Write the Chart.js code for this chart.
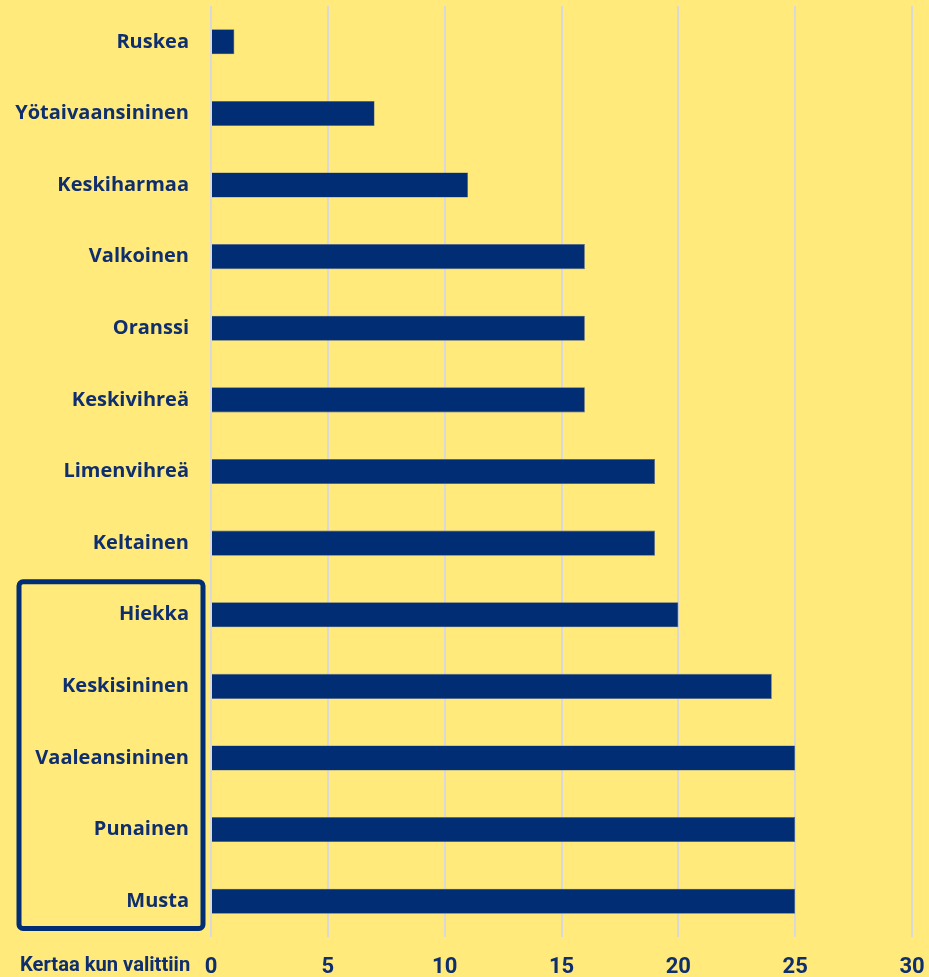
<!DOCTYPE html>
<html>
<head>
<meta charset="utf-8">
<script src="https://cdn.jsdelivr.net/npm/chart.js@4/dist/chart.umd.min.js"></script>
<style>
  html, body { margin: 0; padding: 0; background: #FFEA7B; }
  #wrap { width: 929px; height: 977px; position: relative; }
</style>
</head>
<body>
<div id="wrap"><canvas id="colorChart"></canvas></div>
<script>
const colors = ['Ruskea', 'Yötaivaansininen', 'Keskiharmaa', 'Valkoinen', 'Oranssi', 'Keskivihreä',
  'Limenvihreä', 'Keltainen', 'Hiekka', 'Keskisininen', 'Vaaleansininen', 'Punainen', 'Musta'];
const timesChosen = [1, 7, 11, 16, 16, 16, 19, 19, 20, 24, 25, 25, 25];
const xTicks = [0, 5, 10, 15, 20, 25, 30];
const axisTitle = 'Kertaa kun valittiin';
const boxedFrom = 'Hiekka';

const navy = '#002D73';
const textNavy = '#0F2E6E';

// rounded frame around the bottom categories + the x-axis caption
const extras = {
  id: 'extras',
  afterDraw(chart) {
    const c = chart.ctx;
    const y = chart.scales.y;
    const step = y.getPixelForValue(1) - y.getPixelForValue(0);
    const top = y.getPixelForValue(colors.indexOf(boxedFrom)) - step * 0.46;
    const bottom = y.getPixelForValue(colors.length - 1) + step * 0.38;
    c.save();
    c.strokeStyle = navy;
    c.lineWidth = 5;
    c.beginPath();
    c.roundRect(19, top, 184, bottom - top, 4);
    c.stroke();
    c.fillStyle = textNavy;
    c.font = 'bold 21px Roboto, sans-serif';
    c.textAlign = 'left';
    c.textBaseline = 'middle';
    c.translate(20, 966);
    c.scale(0.96, 1);
    c.fillText(axisTitle, 0, 0);
    c.restore();
  }
};

new Chart(document.getElementById('colorChart'), {
  type: 'bar',
  data: {
    labels: colors,
    datasets: [{
      data: timesChosen,
      backgroundColor: navy,
      borderColor: '#4A6296',
      borderWidth: 0.6,
      barPercentage: 0.35,
      categoryPercentage: 1.0,
    }],
  },
  options: {
    indexAxis: 'y',
    responsive: true,
    maintainAspectRatio: false,
    animation: false,
    layout: { padding: { top: 6, right: 17, left: 0, bottom: 0 } },
    plugins: { legend: { display: false }, tooltip: { enabled: false } },
    scales: {
      x: {
        min: 0,
        max: 30,
        afterBuildTicks(scale) { scale.ticks = xTicks.map(v => ({ value: v })); },
        afterFit(scale) {
          scale.height = 40;
          scale.paddingLeft = 0;
          scale.paddingRight = 0;
        },
        border: { display: false },
        grid: { color: '#D9D9D9', lineWidth: 2, drawTicks: false },
        ticks: {
          color: textNavy,
          padding: 17,
          font: { family: 'Roboto, sans-serif', size: 22, weight: 'bold' },
        },
      },
      y: {
        afterFit(scale) {
          scale.width = 211;
          scale.paddingTop = 0;
          scale.paddingBottom = 0;
        },
        border: { display: false },
        grid: { display: false },
        ticks: {
          color: textNavy,
          padding: 14,
          font: { family: '"Open Sans", sans-serif', size: 20, weight: 'bold' },
        },
      },
    },
  },
  plugins: [extras],
});
</script>
</body>
</html>
